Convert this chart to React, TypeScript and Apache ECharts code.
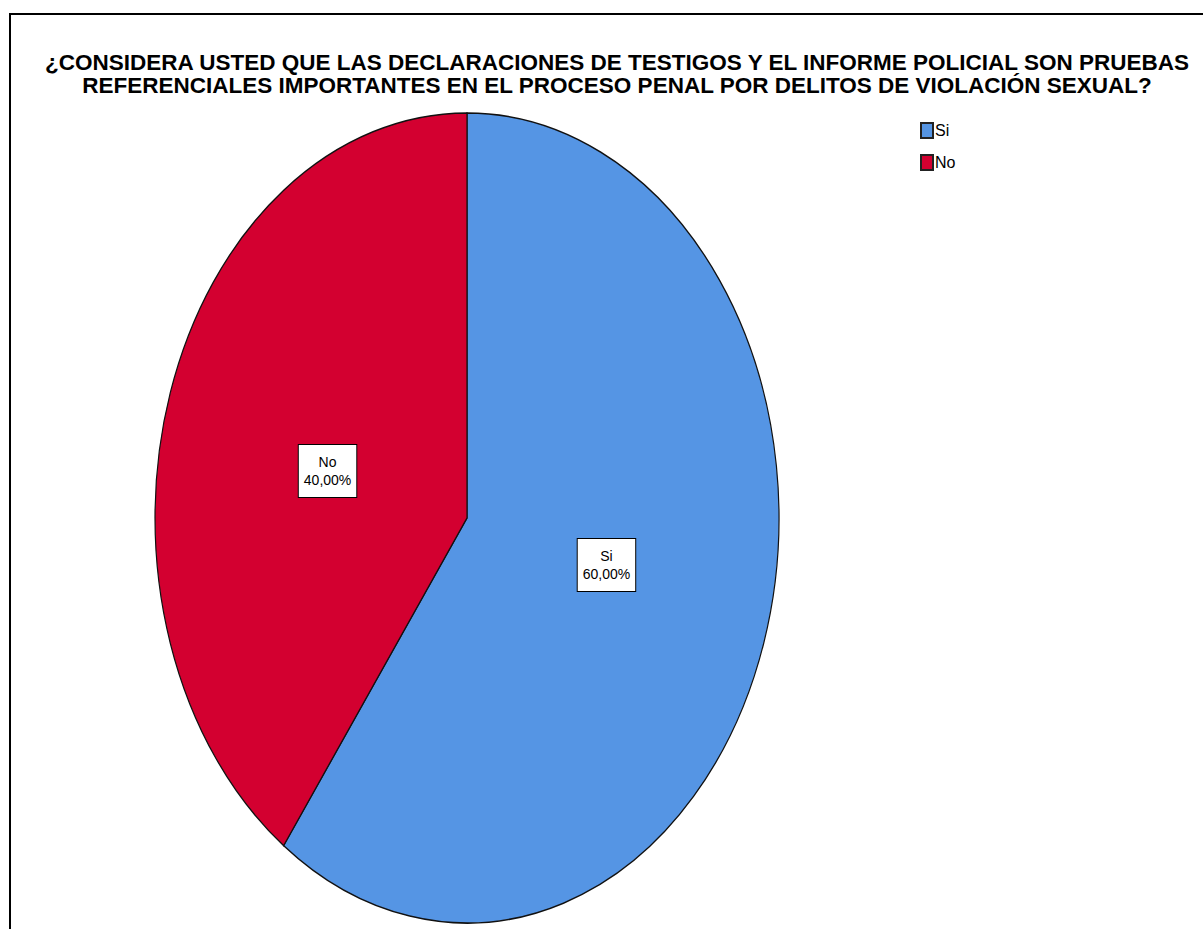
import React, { useEffect, useRef } from "react";
import * as echarts from "echarts";

const titleLines = [
  "¿CONSIDERA USTED QUE LAS DECLARACIONES DE TESTIGOS Y EL INFORME POLICIAL SON PRUEBAS",
  "REFERENCIALES IMPORTANTES EN EL PROCESO PENAL POR DELITOS DE VIOLACIÓN SEXUAL?",
];
const categories = ["Si", "No"];
const values = [60, 40];
const colors = ["#5595E4", "#D30030"];

const FONT = "'Liberation Sans', Arial, sans-serif";
const CX = 467;
const CY = 518;
const RX = 312;
const RY = 405;
const LABEL_FRAC = 0.47;

function fmtPct(v: number, total: number) {
  return ((v / total) * 100).toFixed(2).replace(".", ",") + "%";
}

export default function App() {
  const ref = useRef<HTMLDivElement>(null);
  useEffect(() => {
    if (!ref.current) return;
    const chart = echarts.init(ref.current, undefined, { renderer: "svg" });
    const total = values.reduce((a, b) => a + b, 0);
    const series = categories.map((name, i) => ({
      type: "custom",
      name,
      coordinateSystem: "none",
      itemStyle: { color: colors[i], borderColor: "#222", borderWidth: 1 },
      data: [values[i]],
      renderItem: (params: any, api: any) => {
        const before = values.slice(0, i).reduce((a, b) => a + b, 0);
        const start = -Math.PI / 2 + (before / total) * Math.PI * 2;
        const end = start + (values[i] / total) * Math.PI * 2;
        const mid = (start + end) / 2;
        const lx = CX + Math.cos(mid) * RX * LABEL_FRAC;
        const ly = CY + Math.sin(mid) * RY * LABEL_FRAC * 0.8;
        return {
          type: "group",
          children: [
            {
              type: "sector",
              x: CX,
              y: CY,
              scaleY: RY / RX,
              shape: { cx: 0, cy: 0, r: RX, r0: 0, startAngle: start, endAngle: end, clockwise: true },
              style: { fill: api.visual("color"), stroke: "#111", lineWidth: 1.2, strokeNoScale: true },
            },
            {
              type: "text",
              x: lx,
              y: ly,
              style: {
                text: name + "\n" + fmtPct(values[i], total),
                fill: "#000",
                fontSize: 14,
                fontFamily: FONT,
                lineHeight: 18,
                align: "center",
                verticalAlign: "middle",
                backgroundColor: "#fff",
                borderColor: "#000",
                borderWidth: 1,
                padding: [8, 5],
              },
            },
          ],
        };
      },
    }));
    chart.setOption({
      animation: false,
      backgroundColor: "#fff",
      title: {
        text: titleLines.join("\n"),
        left: 612,
        top: 46,
        textAlign: "center",
        textStyle: {
          fontFamily: FONT,
          fontSize: 22.5,
          fontWeight: "bold",
          lineHeight: 23,
          color: "#000",
        },
      },
      legend: {
        orient: "vertical",
        left: 915,
        top: 117,
        itemWidth: 12,
        itemHeight: 15,
        itemGap: 15,
        icon: "rect",
        data: categories,
        textStyle: { fontFamily: FONT, fontSize: 16, color: "#000", padding: [0, 0, 0, -3] },
      },
      graphic: [
        {
          type: "rect",
          shape: { x: 10, y: 14, width: 1400, height: 1200 },
          style: { fill: "none", stroke: "#000", lineWidth: 2 },
          silent: true,
        },
      ],
      series,
    });
    return () => chart.dispose();
  }, []);
  return (
    <div
      ref={ref}
      style={{ position: "absolute", left: 0, top: 0, width: 1203, height: 929 }}
    />
  );
}
